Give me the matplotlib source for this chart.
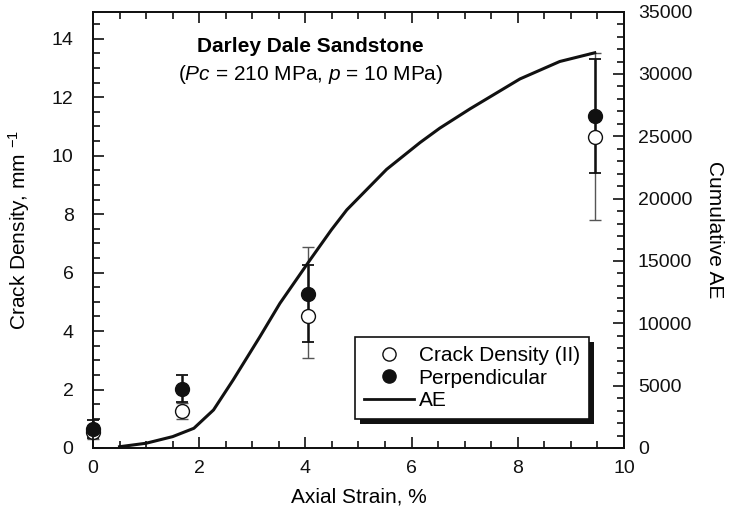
import matplotlib
matplotlib.use("Agg")
import matplotlib.pyplot as plt
from matplotlib.ticker import MultipleLocator
from matplotlib.lines import Line2D
from matplotlib.patches import Rectangle
import numpy as np

plt.rcParams['font.family'] = ['Liberation Sans', 'DejaVu Sans']
plt.rcParams['mathtext.fontset'] = 'custom'
plt.rcParams['mathtext.rm'] = 'Liberation Sans'
plt.rcParams['mathtext.it'] = 'Liberation Sans:italic'
plt.rcParams['mathtext.bf'] = 'Liberation Sans:bold'

# crack density data
strain = [0.0, 1.67, 4.05, 9.45]
cd_parallel = [0.54, 1.27, 4.52, 10.65]
cd_par_low = [0.30, 0.99, 3.07, 7.81]
cd_par_high = [0.80, 1.55, 6.89, 13.52]
cd_perp = [0.65, 2.01, 5.26, 11.35]
cd_perp_low = [0.35, 1.59, 3.64, 9.40]
cd_perp_high = [0.96, 2.49, 6.27, 13.32]

# cumulative AE curve
ae_strain = [0.5, 1.0, 1.5, 1.9, 2.27, 2.64, 3.14, 3.52, 4.09, 4.49, 4.78,
             5.53, 6.16, 6.53, 7.10, 8.04, 8.79, 9.45]
ae_count = [100, 380, 910, 1580, 3050, 5460, 8900, 11600, 15100, 17500, 19100,
            22350, 24500, 25650, 27200, 29600, 31000, 31700]

fig = plt.figure(figsize=(7.31, 5.17), dpi=100)
ax = fig.add_axes([0.1272, 0.1335, 0.7264, 0.844])
ax2 = ax.twinx()

fs = 15      # text size
tfs = 14     # tick label size
ink = '#111111'

def errs(c, lo, hi):
    c = np.array(c)
    return np.vstack([c - np.array(lo), np.array(hi) - c])

# gray thin bars for parallel, black for perpendicular
ax.errorbar(strain, cd_parallel, yerr=errs(cd_parallel, cd_par_low, cd_par_high),
            fmt='none', ecolor='#555555', elinewidth=1.0, capsize=4, capthick=1.0,
            zorder=2, clip_on=False)
ax.errorbar(strain, cd_perp, yerr=errs(cd_perp, cd_perp_low, cd_perp_high),
            fmt='none', ecolor=ink, elinewidth=1.8, capsize=4, capthick=1.3,
            zorder=3, clip_on=False)
ax.plot(strain, cd_parallel, 'o', ms=10, mfc='white', mec=ink, mew=1.0,
        zorder=4, clip_on=False)
ax.plot(strain, cd_perp, 'o', ms=10, mfc=ink, mec=ink, zorder=5, clip_on=False)

ax2.plot(ae_strain, ae_count, '-', color=ink, lw=2.2)

ax.set_xlim(0, 10)
ax.set_ylim(0, 14.93)
ax2.set_ylim(0, 35000)

ax.xaxis.set_major_locator(MultipleLocator(2))
ax.xaxis.set_minor_locator(MultipleLocator(0.5))
ax.yaxis.set_major_locator(MultipleLocator(2))
ax.yaxis.set_minor_locator(MultipleLocator(0.5))
ax2.yaxis.set_major_locator(MultipleLocator(5000))
ax2.yaxis.set_minor_locator(MultipleLocator(1000))

ax.tick_params(which='both', direction='in', top=True, right=False,
               labelsize=tfs, width=1.2, colors=ink)
ax.tick_params(axis='y', which='both', pad=14)
ax.tick_params(axis='x', which='both', pad=8.5)
ax.tick_params(which='major', length=8)
ax.tick_params(which='minor', length=5)
ax2.tick_params(which='both', direction='in', labelsize=tfs, width=1.2,
                colors=ink, pad=10)
ax2.tick_params(which='major', length=8)
ax2.tick_params(which='minor', length=5)
for a in (ax, ax2):
    for s in a.spines.values():
        s.set_linewidth(1.3)
        s.set_color(ink)

ax.set_xlabel('Axial Strain, %', fontsize=fs, va='center')
ax.xaxis.set_label_coords(0.5, -0.112)
ax.set_ylabel(r'Crack Density, mm $^{-1}$', fontsize=fs, va='center')
ax.yaxis.set_label_coords(-0.139, 0.5)
ax2.set_ylabel('Cumulative AE', fontsize=fs, rotation=270, va='center')
ax2.yaxis.set_label_coords(1.171, 0.5)

ax.text(0.409, 0.919, 'Darley Dale Sandstone', transform=ax.transAxes,
        ha='center', va='center', fontsize=fs, fontweight='bold')
ax.text(0.409, 0.855, r'($\mathit{Pc}$ = 210 MPa, $\mathit{p}$ = 10 MPa)',
        transform=ax.transAxes, ha='center', va='center', fontsize=fs)

handles = [
    Line2D([], [], ls='none', marker='o', ms=9.5, mfc='white', mec=ink),
    Line2D([], [], ls='none', marker='o', ms=9.5, mfc=ink, mec=ink),
    Line2D([], [], color=ink, lw=2),
]
labels = ['Crack Density (II)', 'Perpendicular', 'AE']
leg = ax2.legend(handles, labels, loc='lower left', bbox_to_anchor=(0.493, 0.066),
                 borderaxespad=0, fontsize=fs, fancybox=False, framealpha=1,
                 edgecolor=ink, handlelength=2.4, handletextpad=0.25,
                 labelspacing=0.18, borderpad=0.42)
leg.get_frame().set_linewidth(1.2)
leg.set_zorder(6)

# solid offset shadow behind the legend box
fig.canvas.draw()
bb = leg.get_window_extent().transformed(fig.transFigure.inverted())
dx, dy = 5 / 731, 5 / 517
ax2.add_patch(Rectangle((bb.x0 + dx, bb.y0 - dy), bb.width, bb.height,
                        transform=fig.transFigure, facecolor=ink, edgecolor='none',
                        zorder=5.5, clip_on=False))

fig.savefig('out.png', dpi=100)
